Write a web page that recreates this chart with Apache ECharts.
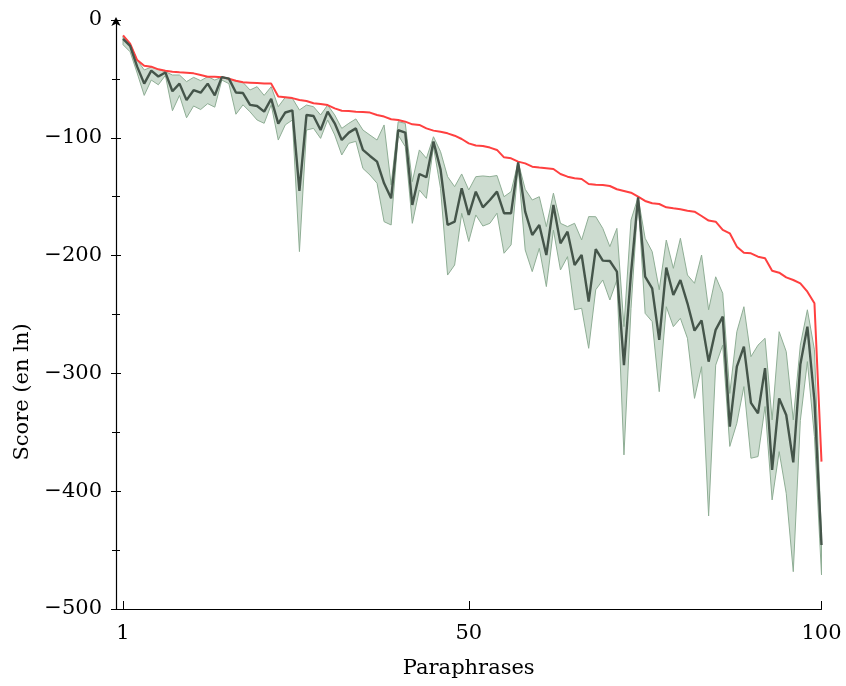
<!DOCTYPE html>
<html><head><meta charset="utf-8">
<script src="https://cdn.jsdelivr.net/npm/echarts@6/dist/echarts.min.js"></script>
<style>html,body{margin:0;padding:0;background:#fff}#c{width:846px;height:686px}</style>
</head><body><div id="c"></div>
<script>
// Paraphrase index (1..100)
const paraphrases = Array.from({length: 100}, (_, k) => k + 1);

// Best score (red line)
const bestScore = [
  -13, -20, -34, -38.8, -39.6, -41.9, -43, -43.9, -44.4, -44.7,
  -45.3, -46.7, -48.1, -48.1, -48.5, -49.8, -51.5, -52.9, -53.2, -53.5,
  -53.8, -54, -65, -65.6, -66.3, -67.9, -68.8, -70.7, -71.3, -72.2,
  -75, -77, -77.3, -77.8, -78.2, -78.6, -80.6, -82, -84.3, -84.9,
  -86.3, -88.6, -89.1, -92, -93.9, -94.8, -96.2, -98.2, -101, -104.7,
  -106.5, -106.9, -108.3, -110.3, -116.6, -117.4, -120.2, -121.7, -124.5, -125.3,
  -125.9, -126.5, -130.7, -133, -134.4, -135, -139.2, -139.8, -140, -140.9,
  -143.7, -145.1, -146.6, -150, -153.6, -155.6, -156.2, -159, -159.9, -160.7,
  -161.9, -162.7, -166.4, -170.3, -171.2, -178.2, -181.1, -192.4, -197.5, -198.1,
  -200.9, -202.3, -212.8, -214.5, -218.5, -220.7, -223.6, -230.6, -240.5, -374.9
];

// Mean score (dark line)
const meanScore = [
  -16, -22, -39.6, -54, -43, -48, -44.5, -60.5, -54, -68,
  -59.6, -61.7, -54, -64, -48.5, -49.8, -61.5, -62, -72, -73,
  -77.8, -67, -88, -78.5, -76.8, -145, -80.6, -81.5, -93.4, -77.8,
  -87.7, -101.9, -95.6, -92, -110.3, -115.4, -120.2, -138.6, -151.4, -93.4,
  -95.6, -157, -130.7, -133.5, -103.2, -126.7, -174, -171.2, -142.9, -165.5,
  -145.7, -159, -152.8, -145.7, -164, -164, -121, -162.7, -182.5, -174,
  -199.5, -157, -189.6, -179.7, -208, -199.5, -239, -194.5, -204.3, -204.6,
  -213.6, -292.9, -215, -150.5, -217.9, -227.8, -271.6, -210.2, -233.4, -220.7,
  -240.5, -263.7, -255, -290, -263, -251.8, -345.2, -294.2, -277.3, -325,
  -333.9, -295.5, -382, -321.2, -335.3, -375.5, -292.5, -260.3, -323, -445.7
];

// Lowest score (lower edge of the band)
const minScore = [
  -21, -27, -45, -64, -51, -55, -47, -77, -64, -83,
  -73, -76, -71, -74, -51, -54, -80, -72, -78, -84.9,
  -87.7, -72, -101.9, -89, -84.9, -196.6, -93.4, -92, -100.5, -84.9,
  -97.6, -114.6, -104.7, -103, -126, -131.6, -138.6, -171.2, -174, -97.7,
  -107.5, -172.6, -144.3, -151.4, -107.5, -142.9, -216.5, -208, -164.1, -188,
  -165.5, -174.9, -172.6, -164, -198, -190.9, -124.5, -195.2, -213.6, -193.8,
  -226.3, -178.3, -212.2, -200.9, -246, -244.7, -278.7, -229, -220.7, -237.7,
  -220.7, -369.2, -245, -152.8, -249, -256, -315.5, -243.4, -260.3, -253.2,
  -270.2, -321.2, -294.3, -421, -293, -276, -362, -342.3, -311.2, -372,
  -370.6, -328.1, -407.4, -366.4, -401.8, -468.3, -340, -290, -353.7, -471
];

// Highest score (upper edge of the band)
const maxScore = [
  -14, -20, -34, -42.4, -40, -42, -43.9, -46.7, -46.7, -52.3,
  -48.7, -51.5, -48.1, -51, -48.5, -49.8, -52, -53, -59.4, -56.6,
  -64, -56.6, -73.6, -65.6, -66.5, -76.4, -72.2, -73.6, -80.6, -72.2,
  -80.6, -92, -87.7, -84, -93.4, -97.7, -101.9, -89.1, -140, -86.3,
  -87.7, -137.2, -110.3, -117.4, -99.1, -111.7, -133, -141.5, -130.7, -144.3,
  -133, -132.4, -133, -132, -150, -145.7, -120.5, -143.7, -152.8, -150,
  -175.4, -147, -172.6, -175.4, -172.6, -186.7, -166.9, -167, -176.9, -192.4,
  -176.9, -260.3, -169.8, -150.5, -185.3, -196.6, -229, -186.8, -210.8, -185.3,
  -216.5, -223.5, -199.5, -246, -218, -232, -317, -264.6, -243.4, -285.8,
  -276, -270.2, -339.5, -264.6, -281.5, -339.5, -276, -246, -280, -440
];

const xTickValues = [1, 50, 100];
const yTickValues = [0, -100, -200, -300, -400, -500];

const FONT = 'DejaVu Serif';
const FS = 21;
const pair = (arr) => paraphrases.map((x, k) => [x, arr[k]]);
const bandData = paraphrases.map((x, k) => [x, minScore[k], maxScore[k]]);
const minus = (v) => String(v).replace('-', '\u2212');

function renderBand(params, api) {
  if (params.dataIndex !== 0) return null;
  const upper = bandData.map(d => api.coord([d[0], d[2]]));
  const lower = bandData.map(d => api.coord([d[0], d[1]])).reverse();
  const pts = upper.concat(lower);
  return {
    type: 'polygon',
    shape: {points: pts},
    style: {fill: '#cddcd0', stroke: '#8fae95', lineWidth: 1, lineJoin: 'round'},
    silent: true
  };
}

const chart = echarts.init(document.getElementById('c'), null, {renderer: 'canvas'});
chart.setOption({
  animation: false,
  backgroundColor: '#ffffff',
  grid: {left: 116, right: 24.5, top: 20, bottom: 77, containLabel: false},
  xAxis: {
    type: 'value', min: 0, max: 100,
    name: 'Paraphrases', nameLocation: 'middle', nameGap: 49,
    nameTextStyle: {fontFamily: FONT, fontSize: FS, color: '#000'},
    axisLine: {show: true, onZero: false, lineStyle: {color: '#000', width: 1.2}},
    axisTick: {show: true, inside: true, length: 8, customValues: xTickValues, lineStyle: {color: '#000', width: 1}},
    axisLabel: {customValues: xTickValues, fontFamily: FONT, fontSize: FS, color: '#000', margin: 14},
    splitLine: {show: false}
  },
  yAxis: [{
    type: 'value', min: -500, max: 0, interval: 100,
    name: 'Score (en ln)', nameLocation: 'middle', nameGap: 82,
    nameTextStyle: {fontFamily: FONT, fontSize: FS, color: '#000', padding: [0, 155, 0, 0]},
    axisLine: {show: true, onZero: false, lineStyle: {color: '#000', width: 1.2},
      symbol: ['none', 'arrow'], symbolSize: [7, 9], symbolOffset: [0, 3]},
    axisTick: {show: true, inside: false, length: 5, lineStyle: {color: '#000', width: 1}},
    minorTick: {show: true, splitNumber: 2, length: 4, lineStyle: {color: '#000', width: 1}},
    axisLabel: {fontFamily: FONT, fontSize: FS, color: '#000', margin: 14, formatter: minus},
    splitLine: {show: false}
  }, {
    type: 'value', min: -500, max: 0, interval: 100, position: 'left',
    axisLine: {show: false},
    axisTick: {show: true, inside: true, length: 5, lineStyle: {color: '#000', width: 1}},
    minorTick: {show: true, splitNumber: 2, length: 4, lineStyle: {color: '#000', width: 1}},
    axisLabel: {show: false},
    splitLine: {show: false}
  }],
  series: [
    {
      name: 'range', type: 'custom', data: bandData, renderItem: renderBand,
      encode: {x: 0, y: [1, 2]}, silent: true, z: 1
    },
    {
      name: 'best', type: 'line', data: pair(bestScore), symbol: 'none',
      lineStyle: {color: '#ff4040', width: 2}, z: 3
    },
    {
      name: 'mean', type: 'line', data: pair(meanScore), symbol: 'none',
      lineStyle: {color: '#45554a', width: 2.4}, z: 4
    }
  ]
});
</script>
</body></html>
